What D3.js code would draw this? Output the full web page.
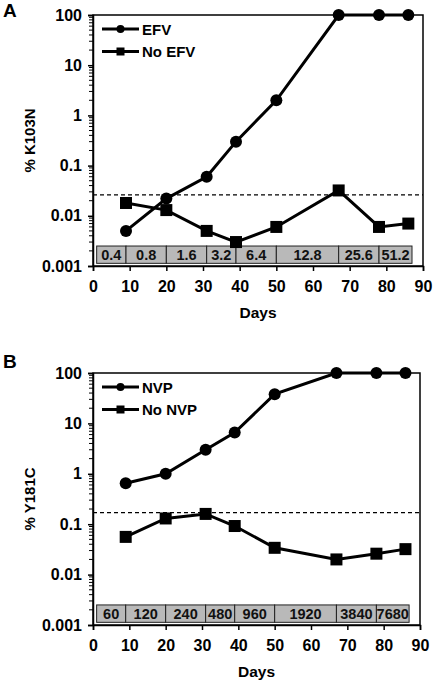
<!DOCTYPE html>
<html>
<head>
<meta charset="utf-8">
<script src="https://cdn.jsdelivr.net/npm/d3@7"></script>
<style>
  body { margin: 0; background: #fff; }
  svg { display: block; font-family: "Liberation Sans", Arial, sans-serif; font-weight: bold; }
</style>
</head>
<body>
<div id="chart"></div>
<script>
const width = 434
const height = 680

// data
const days = [9, 20, 31, 39, 50, 67, 78, 86]
const efv = [0.005, 0.022, 0.06, 0.3, 2, 100, 100, 100]
const noEfv = [0.018, 0.013, 0.005, 0.003, 0.006, 0.032, 0.006, 0.007]
const nvp = [0.65, 1, 3, 6.6, 38, 100, 100, 100]
const noNvp = [0.056, 0.13, 0.16, 0.092, 0.034, 0.02, 0.026, 0.032]
const bandEdges = [1, 9, 20, 31, 39, 50, 67, 78, 87]
const efvConc = ["0.4", "0.8", "1.6", "3.2", "6.4", "12.8", "25.6", "51.2"]
const nvpConc = ["60", "120", "240", "480", "960", "1920", "3840", "7680"]
const cutoffA = 0.026
const cutoffB = 0.17
const xTicks = [0, 10, 20, 30, 40, 50, 60, 70, 80, 90]
const yTicks = [0.001, 0.01, 0.1, 1, 10, 100]
const yTickLabels = ["0.001", "0.01", "0.1", "1", "10", "100"]

const svg = d3.select("#chart").append("svg")
  .attr("width", width)
  .attr("height", height)

function panel(o) {
  const x = d3.scaleLinear().domain([0, 90]).range([o.left, o.right])
  const y = d3.scaleLog().domain([0.001, 100]).range([o.bottom, o.top])
  const g = svg.append("g")

  // panel letter
  g.append("text")
    .attr("x", 3).attr("y", o.top + o.letterDy)
    .attr("font-size", 19)
    .text(o.letter)

  // concentration band
  const band = g.append("g")
  const bandTop = y(0.0025), bandBot = y(0.00113)
  o.conc.forEach((c, i) => {
    const x0 = x(bandEdges[i]), x1 = x(bandEdges[i + 1])
    band.append("rect")
      .attr("x", x0).attr("y", bandTop)
      .attr("width", x1 - x0).attr("height", bandBot - bandTop)
      .attr("fill", "#b9b9b9").attr("stroke", "#222").attr("stroke-width", 1)
    band.append("text")
      .attr("x", (x0 + x1) / 2).attr("y", bandBot - 3)
      .attr("text-anchor", "middle").attr("font-size", 14.5).attr("fill", "#111")
      .text(c)
  })

  // frame
  g.append("rect")
    .attr("x", o.left).attr("y", o.top)
    .attr("width", o.right - o.left).attr("height", o.bottom - o.top)
    .attr("fill", "none").attr("stroke", "#000").attr("stroke-width", 1.5)

  // minor y ticks
  const minors = []
  for (let k = -3; k < 2; k++) for (let m = 2; m < 10; m++) minors.push(m * Math.pow(10, k))
  g.append("g").selectAll("line").data(minors).join("line")
    .attr("x1", o.left - 4).attr("x2", o.left)
    .attr("y1", d => y(d)).attr("y2", d => y(d))
    .attr("stroke", "#000").attr("stroke-width", 1)

  // y axis
  g.append("g")
    .attr("transform", `translate(${o.left},0)`)
    .call(d3.axisLeft(y).tickValues(yTicks).tickFormat((d, i) => yTickLabels[i]).tickSize(5).tickPadding(6))
    .call(a => a.select(".domain").attr("stroke-width", 1.5))
    .call(a => a.selectAll(".tick line").attr("stroke-width", 1.5))
    .call(a => a.selectAll("text").attr("font-size", 16).attr("font-family", null).attr("fill", "#000"))

  // x axis
  g.append("g")
    .attr("transform", `translate(0,${o.bottom})`)
    .call(d3.axisBottom(x).tickValues(xTicks).tickSize(5).tickPadding(10))
    .call(a => a.select(".domain").attr("stroke-width", 1.5))
    .call(a => a.selectAll(".tick line").attr("stroke-width", 1.5))
    .call(a => a.selectAll("text").attr("font-size", 16).attr("font-family", null).attr("fill", "#000"))

  g.append("text")
    .attr("x", (o.left + o.right) / 2).attr("y", o.bottom + 52)
    .attr("text-anchor", "middle").attr("font-size", 15.5)
    .text("Days")

  g.append("text")
    .attr("transform", `translate(35,${(o.top + o.bottom) / 2}) rotate(-90)`)
    .attr("text-anchor", "middle").attr("font-size", 15)
    .text(o.yTitle)

  // cutoff
  g.append("line")
    .attr("x1", o.left).attr("x2", o.right)
    .attr("y1", y(o.cutoff)).attr("y2", y(o.cutoff))
    .attr("stroke", "#000").attr("stroke-width", 1.2).attr("stroke-dasharray", "4,3")

  const line = d3.line().x(d => x(d[0])).y(d => y(d[1]))
  const drug = days.map((d, i) => [d, o.drug[i]])
  const noDrug = days.map((d, i) => [d, o.noDrug[i]])

  g.append("path").datum(noDrug).attr("d", line)
    .attr("fill", "none").attr("stroke", "#000").attr("stroke-width", 3)
  g.append("g").selectAll("rect").data(noDrug).join("rect")
    .attr("x", d => x(d[0]) - 6).attr("y", d => y(d[1]) - 6)
    .attr("width", 12).attr("height", 12).attr("fill", "#000")

  g.append("path").datum(drug).attr("d", line)
    .attr("fill", "none").attr("stroke", "#000").attr("stroke-width", 3)
  g.append("g").selectAll("circle").data(drug).join("circle")
    .attr("cx", d => x(d[0])).attr("cy", d => y(d[1])).attr("r", 6)
    .attr("fill", "#000")

  // legend
  const lg = g.append("g").attr("transform", `translate(${o.left + 9},${o.top + 14})`)
  ;[o.names[0], o.names[1]].forEach((name, i) => {
    const yy = i * 22.5
    lg.append("line").attr("x1", 0).attr("x2", 37).attr("y1", yy).attr("y2", yy)
      .attr("stroke", "#000").attr("stroke-width", 3)
    if (i === 0) lg.append("circle").attr("cx", 18.5).attr("cy", yy).attr("r", 4).attr("fill", "#000")
    else lg.append("rect").attr("x", 14.5).attr("y", yy - 4).attr("width", 8).attr("height", 8).attr("fill", "#000")
    lg.append("text").attr("x", 40).attr("y", yy + 5.5).attr("font-size", 15).text(name)
  })
}

panel({letter: "A", letterDy: 2, left: 93, right: 423, top: 15, bottom: 266,
  drug: efv, noDrug: noEfv, conc: efvConc, cutoff: cutoffA,
  yTitle: "% K103N", names: ["EFV", "No EFV"]})

panel({letter: "B", letterDy: -5, left: 93, right: 420, top: 373, bottom: 625,
  drug: nvp, noDrug: noNvp, conc: nvpConc, cutoff: cutoffB,
  yTitle: "% Y181C", names: ["NVP", "No NVP"]})
</script>
</body>
</html>
